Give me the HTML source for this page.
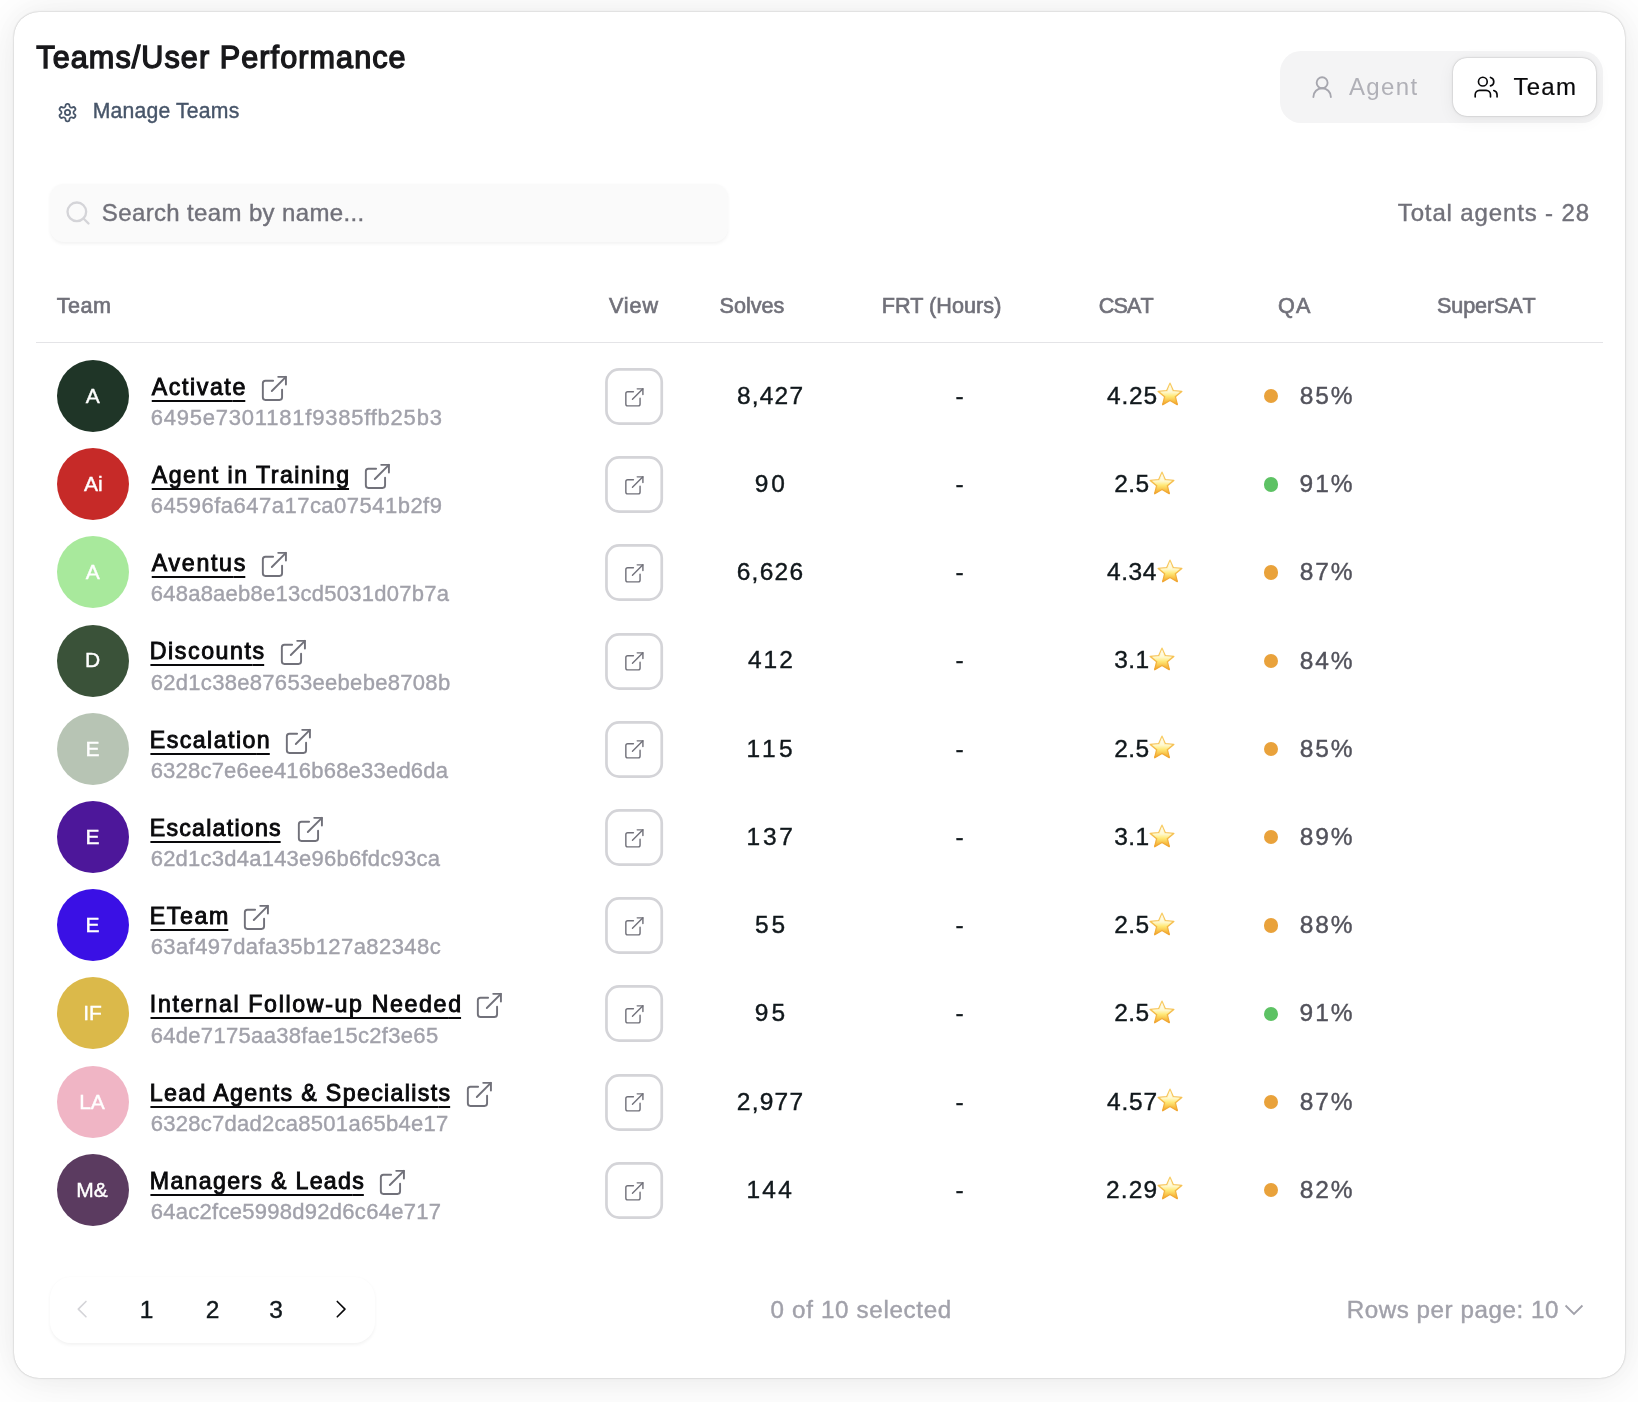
<!DOCTYPE html>
<html lang="en">
<head>
<meta charset="utf-8">
<title>Teams/User Performance</title>
<style>
html,body{margin:0;padding:0}
body{width:1638px;height:1402px;overflow:hidden;background:#fff;font-family:"Liberation Sans",sans-serif;position:relative}
.card{position:absolute;left:14px;top:12px;width:1611px;height:1366px;border-radius:25px;background:#fff;
 box-shadow:0 0 26px rgba(0,0,0,.03),0 3.5px 52px rgba(0,0,0,.08),0 0 1.75px rgba(0,0,0,.3)}
.t{position:absolute;white-space:pre;font-family:"Liberation Sans",sans-serif}
.av{position:absolute;left:56.9px;width:72px;height:72px;border-radius:50%}
.dot{position:absolute;left:1263.9px;width:14.4px;height:14.4px;border-radius:50%}
.toggle{position:absolute;left:1280px;top:51px;width:323px;height:72px;border-radius:21px;background:#f4f4f5}
.tsel{position:absolute;left:1453px;top:58px;width:143px;height:58px;border-radius:14px;background:#fff;
 box-shadow:0 0 8.75px rgba(0,0,0,.02),0 3.5px 17.5px rgba(0,0,0,.06),0 0 1.75px rgba(0,0,0,.3)}
.search{position:absolute;left:49.5px;top:184px;width:678.5px;height:58px;border-radius:14px;background:#fafafa;
 box-shadow:0 1.75px 3.5px rgba(0,0,0,.05)}
.hr{position:absolute;left:36px;top:341.5px;width:1567px;height:1.5px;background:#e4e4e7}
.pg{position:absolute;left:50px;top:1276.5px;width:324.5px;height:66px;border-radius:21px;background:#fff;
 box-shadow:0 1.75px 3.5px rgba(0,0,0,.05)}
svg{overflow:visible}
</style>
</head>
<body>
<svg width="0" height="0" style="position:absolute"><defs>
<linearGradient id="sg" x1="0" y1="0" x2="0" y2="1"><stop offset="0" stop-color="#f9d06a"/><stop offset=".5" stop-color="#f5bd4c"/><stop offset="1" stop-color="#f0a530"/></linearGradient><linearGradient id="sg2" x1="0" y1="0" x2="0" y2="1"><stop offset="0" stop-color="#fffdf2"/><stop offset=".38" stop-color="#fff9cf"/><stop offset=".62" stop-color="#ffe978"/><stop offset="1" stop-color="#f6b235"/></linearGradient>
</defs></svg>
<div class="card"></div>
<div class="toggle"></div>
<div class="tsel"></div>
<div class="search"></div>
<div class="hr"></div>
<div class="pg"></div>
<!-- gear (lucide settings) -->
<svg style="position:absolute;left:57.4px;top:102.3px" width="21" height="21" viewBox="0 0 24 24" fill="none" stroke="#475569" stroke-width="2" stroke-linecap="round" stroke-linejoin="round"><path d="M12.22 2h-.44a2 2 0 0 0-2 2v.18a2 2 0 0 1-1 1.73l-.43.25a2 2 0 0 1-2 0l-.15-.08a2 2 0 0 0-2.73.73l-.22.38a2 2 0 0 0 .73 2.73l.15.1a2 2 0 0 1 1 1.72v.51a2 2 0 0 1-1 1.74l-.15.09a2 2 0 0 0-.73 2.73l.22.38a2 2 0 0 0 2.73.73l.15-.08a2 2 0 0 1 2 0l.43.25a2 2 0 0 1 1 1.73V20a2 2 0 0 0 2 2h.44a2 2 0 0 0 2-2v-.18a2 2 0 0 1 1-1.73l.43-.25a2 2 0 0 1 2 0l.15.08a2 2 0 0 0 2.73-.73l.22-.39a2 2 0 0 0-.73-2.73l-.15-.08a2 2 0 0 1-1-1.74v-.5a2 2 0 0 1 1-1.74l.15-.09a2 2 0 0 0 .73-2.73l-.22-.38a2 2 0 0 0-2.73-.73l-.15.08a2 2 0 0 1-2 0l-.43-.25a2 2 0 0 1-1-1.73V4a2 2 0 0 0-2-2z"/><circle cx="12" cy="12" r="3"/></svg>
<!-- agent icon (lucide user-round) -->
<svg style="position:absolute;left:1308.5px;top:74.3px" width="26.25" height="26.25" viewBox="0 0 24 24" fill="none" stroke="#a6a6ae" stroke-width="1.7" stroke-linecap="round" stroke-linejoin="round"><circle cx="12" cy="8" r="5"/><path d="M20 21a8 8 0 0 0-16 0"/></svg>
<!-- team icon (lucide users) -->
<svg style="position:absolute;left:1473.4px;top:74.3px" width="26.25" height="26.25" viewBox="0 0 24 24" fill="none" stroke="#09090b" stroke-width="1.5" stroke-linecap="round" stroke-linejoin="round"><path d="M16 21v-2a4 4 0 0 0-4-4H6a4 4 0 0 0-4 4v2"/><circle cx="9" cy="7" r="4"/><path d="M22 21v-2a4 4 0 0 0-3-3.87"/><path d="M16 3.13a4 4 0 0 1 0 7.75"/></svg>
<!-- search icon (lucide search) -->
<svg style="position:absolute;left:63.8px;top:199.3px" width="28" height="28" viewBox="0 0 24 24" fill="none" stroke="#d4d4d8" stroke-width="2" stroke-linecap="round" stroke-linejoin="round"><circle cx="11" cy="11" r="8"/><path d="m21 21-4.3-4.3"/></svg>
<!-- pagination chevrons -->
<svg style="position:absolute;left:69.3px;top:1296.25px" width="26.25" height="26.25" viewBox="0 0 24 24" fill="none" stroke="#d4d4d8" stroke-width="1.5" stroke-linecap="round" stroke-linejoin="round"><path d="M15.5 19l-7-7 7-7"/></svg>
<svg style="position:absolute;left:328.3px;top:1296.25px" width="26.25" height="26.25" viewBox="0 0 24 24" fill="none" stroke="#09090b" stroke-width="1.5" stroke-linecap="round" stroke-linejoin="round"><path d="M8.5 19l7-7-7-7"/></svg>
<svg style="position:absolute;left:1560px;top:1298px" width="28" height="24" viewBox="0 0 28 24" fill="none" stroke="#a1a1aa" stroke-width="1.8" stroke-linecap="butt" stroke-linejoin="miter"><path d="M5.55 7.5l8.45 8.5 8.45-8.5"/></svg>
<div class="av" style="top:359.80px;background:#1f3527"></div>
<svg style="position:absolute;left:259.22px;top:372.62px" width="30.77" height="30.77" viewBox="0 0 24 24" fill="none" stroke="#71717a" stroke-width="1.5" stroke-linecap="round" stroke-linejoin="round"><path d="M15 3h6v6"/><path d="M10 14 21 3"/><path d="M18 13v6a2 2 0 0 1-2 2H5a2 2 0 0 1-2-2V8a2 2 0 0 1 2-2h6"/></svg>
<svg style="position:absolute;left:603px;top:365.80px" width="62" height="60" viewBox="0 0 62 60"><rect x="3.45" y="3.45" width="55.3" height="54.1" rx="12.7" fill="#fff" stroke="#d4d4d8" stroke-width="2.7"/></svg>
<svg style="position:absolute;left:622.50px;top:385.50px" width="22.75" height="22.75" viewBox="0 0 24 24" fill="none" stroke="#71717a" stroke-width="1.5" stroke-linecap="round" stroke-linejoin="round"><path d="M15 3h6v6"/><path d="M10 14 21 3"/><path d="M18 13v6a2 2 0 0 1-2 2H5a2 2 0 0 1-2-2V8a2 2 0 0 1 2-2h6"/></svg>
<div class="dot" style="top:388.90px;background:#e9a23b"></div>
<div class="av" style="top:448.04px;background:#c62a28"></div>
<svg style="position:absolute;left:362.02px;top:460.86px" width="30.77" height="30.77" viewBox="0 0 24 24" fill="none" stroke="#71717a" stroke-width="1.5" stroke-linecap="round" stroke-linejoin="round"><path d="M15 3h6v6"/><path d="M10 14 21 3"/><path d="M18 13v6a2 2 0 0 1-2 2H5a2 2 0 0 1-2-2V8a2 2 0 0 1 2-2h6"/></svg>
<svg style="position:absolute;left:603px;top:454.04px" width="62" height="60" viewBox="0 0 62 60"><rect x="3.45" y="3.45" width="55.3" height="54.1" rx="12.7" fill="#fff" stroke="#d4d4d8" stroke-width="2.7"/></svg>
<svg style="position:absolute;left:622.50px;top:473.74px" width="22.75" height="22.75" viewBox="0 0 24 24" fill="none" stroke="#71717a" stroke-width="1.5" stroke-linecap="round" stroke-linejoin="round"><path d="M15 3h6v6"/><path d="M10 14 21 3"/><path d="M18 13v6a2 2 0 0 1-2 2H5a2 2 0 0 1-2-2V8a2 2 0 0 1 2-2h6"/></svg>
<div class="dot" style="top:477.14px;background:#5dc264"></div>
<div class="av" style="top:536.28px;background:#a8e99c"></div>
<svg style="position:absolute;left:259.02px;top:549.10px" width="30.77" height="30.77" viewBox="0 0 24 24" fill="none" stroke="#71717a" stroke-width="1.5" stroke-linecap="round" stroke-linejoin="round"><path d="M15 3h6v6"/><path d="M10 14 21 3"/><path d="M18 13v6a2 2 0 0 1-2 2H5a2 2 0 0 1-2-2V8a2 2 0 0 1 2-2h6"/></svg>
<svg style="position:absolute;left:603px;top:542.28px" width="62" height="60" viewBox="0 0 62 60"><rect x="3.45" y="3.45" width="55.3" height="54.1" rx="12.7" fill="#fff" stroke="#d4d4d8" stroke-width="2.7"/></svg>
<svg style="position:absolute;left:622.50px;top:561.98px" width="22.75" height="22.75" viewBox="0 0 24 24" fill="none" stroke="#71717a" stroke-width="1.5" stroke-linecap="round" stroke-linejoin="round"><path d="M15 3h6v6"/><path d="M10 14 21 3"/><path d="M18 13v6a2 2 0 0 1-2 2H5a2 2 0 0 1-2-2V8a2 2 0 0 1 2-2h6"/></svg>
<div class="dot" style="top:565.38px;background:#e9a23b"></div>
<div class="av" style="top:624.52px;background:#3a5239"></div>
<svg style="position:absolute;left:277.82px;top:637.34px" width="30.77" height="30.77" viewBox="0 0 24 24" fill="none" stroke="#71717a" stroke-width="1.5" stroke-linecap="round" stroke-linejoin="round"><path d="M15 3h6v6"/><path d="M10 14 21 3"/><path d="M18 13v6a2 2 0 0 1-2 2H5a2 2 0 0 1-2-2V8a2 2 0 0 1 2-2h6"/></svg>
<svg style="position:absolute;left:603px;top:630.52px" width="62" height="60" viewBox="0 0 62 60"><rect x="3.45" y="3.45" width="55.3" height="54.1" rx="12.7" fill="#fff" stroke="#d4d4d8" stroke-width="2.7"/></svg>
<svg style="position:absolute;left:622.50px;top:650.22px" width="22.75" height="22.75" viewBox="0 0 24 24" fill="none" stroke="#71717a" stroke-width="1.5" stroke-linecap="round" stroke-linejoin="round"><path d="M15 3h6v6"/><path d="M10 14 21 3"/><path d="M18 13v6a2 2 0 0 1-2 2H5a2 2 0 0 1-2-2V8a2 2 0 0 1 2-2h6"/></svg>
<div class="dot" style="top:653.62px;background:#e9a23b"></div>
<div class="av" style="top:712.76px;background:#b7c4b4"></div>
<svg style="position:absolute;left:282.62px;top:725.58px" width="30.77" height="30.77" viewBox="0 0 24 24" fill="none" stroke="#71717a" stroke-width="1.5" stroke-linecap="round" stroke-linejoin="round"><path d="M15 3h6v6"/><path d="M10 14 21 3"/><path d="M18 13v6a2 2 0 0 1-2 2H5a2 2 0 0 1-2-2V8a2 2 0 0 1 2-2h6"/></svg>
<svg style="position:absolute;left:603px;top:718.76px" width="62" height="60" viewBox="0 0 62 60"><rect x="3.45" y="3.45" width="55.3" height="54.1" rx="12.7" fill="#fff" stroke="#d4d4d8" stroke-width="2.7"/></svg>
<svg style="position:absolute;left:622.50px;top:738.46px" width="22.75" height="22.75" viewBox="0 0 24 24" fill="none" stroke="#71717a" stroke-width="1.5" stroke-linecap="round" stroke-linejoin="round"><path d="M15 3h6v6"/><path d="M10 14 21 3"/><path d="M18 13v6a2 2 0 0 1-2 2H5a2 2 0 0 1-2-2V8a2 2 0 0 1 2-2h6"/></svg>
<div class="dot" style="top:741.86px;background:#e9a23b"></div>
<div class="av" style="top:801.00px;background:#4d179a"></div>
<svg style="position:absolute;left:294.62px;top:813.82px" width="30.77" height="30.77" viewBox="0 0 24 24" fill="none" stroke="#71717a" stroke-width="1.5" stroke-linecap="round" stroke-linejoin="round"><path d="M15 3h6v6"/><path d="M10 14 21 3"/><path d="M18 13v6a2 2 0 0 1-2 2H5a2 2 0 0 1-2-2V8a2 2 0 0 1 2-2h6"/></svg>
<svg style="position:absolute;left:603px;top:807.00px" width="62" height="60" viewBox="0 0 62 60"><rect x="3.45" y="3.45" width="55.3" height="54.1" rx="12.7" fill="#fff" stroke="#d4d4d8" stroke-width="2.7"/></svg>
<svg style="position:absolute;left:622.50px;top:826.70px" width="22.75" height="22.75" viewBox="0 0 24 24" fill="none" stroke="#71717a" stroke-width="1.5" stroke-linecap="round" stroke-linejoin="round"><path d="M15 3h6v6"/><path d="M10 14 21 3"/><path d="M18 13v6a2 2 0 0 1-2 2H5a2 2 0 0 1-2-2V8a2 2 0 0 1 2-2h6"/></svg>
<div class="dot" style="top:830.10px;background:#e9a23b"></div>
<div class="av" style="top:889.24px;background:#3a10e5"></div>
<svg style="position:absolute;left:241.32px;top:902.06px" width="30.77" height="30.77" viewBox="0 0 24 24" fill="none" stroke="#71717a" stroke-width="1.5" stroke-linecap="round" stroke-linejoin="round"><path d="M15 3h6v6"/><path d="M10 14 21 3"/><path d="M18 13v6a2 2 0 0 1-2 2H5a2 2 0 0 1-2-2V8a2 2 0 0 1 2-2h6"/></svg>
<svg style="position:absolute;left:603px;top:895.24px" width="62" height="60" viewBox="0 0 62 60"><rect x="3.45" y="3.45" width="55.3" height="54.1" rx="12.7" fill="#fff" stroke="#d4d4d8" stroke-width="2.7"/></svg>
<svg style="position:absolute;left:622.50px;top:914.94px" width="22.75" height="22.75" viewBox="0 0 24 24" fill="none" stroke="#71717a" stroke-width="1.5" stroke-linecap="round" stroke-linejoin="round"><path d="M15 3h6v6"/><path d="M10 14 21 3"/><path d="M18 13v6a2 2 0 0 1-2 2H5a2 2 0 0 1-2-2V8a2 2 0 0 1 2-2h6"/></svg>
<div class="dot" style="top:918.34px;background:#e9a23b"></div>
<div class="av" style="top:977.48px;background:#dbb94a"></div>
<svg style="position:absolute;left:474.02px;top:990.30px" width="30.77" height="30.77" viewBox="0 0 24 24" fill="none" stroke="#71717a" stroke-width="1.5" stroke-linecap="round" stroke-linejoin="round"><path d="M15 3h6v6"/><path d="M10 14 21 3"/><path d="M18 13v6a2 2 0 0 1-2 2H5a2 2 0 0 1-2-2V8a2 2 0 0 1 2-2h6"/></svg>
<svg style="position:absolute;left:603px;top:983.48px" width="62" height="60" viewBox="0 0 62 60"><rect x="3.45" y="3.45" width="55.3" height="54.1" rx="12.7" fill="#fff" stroke="#d4d4d8" stroke-width="2.7"/></svg>
<svg style="position:absolute;left:622.50px;top:1003.18px" width="22.75" height="22.75" viewBox="0 0 24 24" fill="none" stroke="#71717a" stroke-width="1.5" stroke-linecap="round" stroke-linejoin="round"><path d="M15 3h6v6"/><path d="M10 14 21 3"/><path d="M18 13v6a2 2 0 0 1-2 2H5a2 2 0 0 1-2-2V8a2 2 0 0 1 2-2h6"/></svg>
<div class="dot" style="top:1006.58px;background:#5dc264"></div>
<div class="av" style="top:1065.72px;background:#f0b5c5"></div>
<svg style="position:absolute;left:463.52px;top:1078.54px" width="30.77" height="30.77" viewBox="0 0 24 24" fill="none" stroke="#71717a" stroke-width="1.5" stroke-linecap="round" stroke-linejoin="round"><path d="M15 3h6v6"/><path d="M10 14 21 3"/><path d="M18 13v6a2 2 0 0 1-2 2H5a2 2 0 0 1-2-2V8a2 2 0 0 1 2-2h6"/></svg>
<svg style="position:absolute;left:603px;top:1071.72px" width="62" height="60" viewBox="0 0 62 60"><rect x="3.45" y="3.45" width="55.3" height="54.1" rx="12.7" fill="#fff" stroke="#d4d4d8" stroke-width="2.7"/></svg>
<svg style="position:absolute;left:622.50px;top:1091.42px" width="22.75" height="22.75" viewBox="0 0 24 24" fill="none" stroke="#71717a" stroke-width="1.5" stroke-linecap="round" stroke-linejoin="round"><path d="M15 3h6v6"/><path d="M10 14 21 3"/><path d="M18 13v6a2 2 0 0 1-2 2H5a2 2 0 0 1-2-2V8a2 2 0 0 1 2-2h6"/></svg>
<div class="dot" style="top:1094.82px;background:#e9a23b"></div>
<div class="av" style="top:1153.96px;background:#5b3b60"></div>
<svg style="position:absolute;left:377.22px;top:1166.78px" width="30.77" height="30.77" viewBox="0 0 24 24" fill="none" stroke="#71717a" stroke-width="1.5" stroke-linecap="round" stroke-linejoin="round"><path d="M15 3h6v6"/><path d="M10 14 21 3"/><path d="M18 13v6a2 2 0 0 1-2 2H5a2 2 0 0 1-2-2V8a2 2 0 0 1 2-2h6"/></svg>
<svg style="position:absolute;left:603px;top:1159.96px" width="62" height="60" viewBox="0 0 62 60"><rect x="3.45" y="3.45" width="55.3" height="54.1" rx="12.7" fill="#fff" stroke="#d4d4d8" stroke-width="2.7"/></svg>
<svg style="position:absolute;left:622.50px;top:1179.66px" width="22.75" height="22.75" viewBox="0 0 24 24" fill="none" stroke="#71717a" stroke-width="1.5" stroke-linecap="round" stroke-linejoin="round"><path d="M15 3h6v6"/><path d="M10 14 21 3"/><path d="M18 13v6a2 2 0 0 1-2 2H5a2 2 0 0 1-2-2V8a2 2 0 0 1 2-2h6"/></svg>
<div class="dot" style="top:1183.06px;background:#e9a23b"></div>
<svg style="position:absolute;left:1156.98px;top:382.30px" width="26" height="24" viewBox="0 0 26 25" preserveAspectRatio="none"><path d="M13.00 1.20 L16.29 9.07 L24.79 9.77 L18.33 15.33 L20.29 23.63 L13.00 19.20 L5.71 23.63 L7.67 15.33 L1.21 9.77 L9.71 9.07Z" fill="url(#sg)" stroke="url(#sg)" stroke-width="1.4" stroke-linejoin="round"/><path d="M13.00 3.6 L15.6 9.95 L22.4 10.5 L17.2 15 L18.8 21.6 L13.00 18.1 L7.2 21.6 L8.8 15 L3.6 10.5 L10.4 9.95Z" fill="url(#sg2)" stroke="url(#sg2)" stroke-width="0.8" stroke-linejoin="round"/></svg>
<svg style="position:absolute;left:1148.98px;top:470.54px" width="26" height="24" viewBox="0 0 26 25" preserveAspectRatio="none"><path d="M13.00 1.20 L16.29 9.07 L24.79 9.77 L18.33 15.33 L20.29 23.63 L13.00 19.20 L5.71 23.63 L7.67 15.33 L1.21 9.77 L9.71 9.07Z" fill="url(#sg)" stroke="url(#sg)" stroke-width="1.4" stroke-linejoin="round"/><path d="M13.00 3.6 L15.6 9.95 L22.4 10.5 L17.2 15 L18.8 21.6 L13.00 18.1 L7.2 21.6 L8.8 15 L3.6 10.5 L10.4 9.95Z" fill="url(#sg2)" stroke="url(#sg2)" stroke-width="0.8" stroke-linejoin="round"/></svg>
<svg style="position:absolute;left:1156.92px;top:558.78px" width="26" height="24" viewBox="0 0 26 25" preserveAspectRatio="none"><path d="M13.00 1.20 L16.29 9.07 L24.79 9.77 L18.33 15.33 L20.29 23.63 L13.00 19.20 L5.71 23.63 L7.67 15.33 L1.21 9.77 L9.71 9.07Z" fill="url(#sg)" stroke="url(#sg)" stroke-width="1.4" stroke-linejoin="round"/><path d="M13.00 3.6 L15.6 9.95 L22.4 10.5 L17.2 15 L18.8 21.6 L13.00 18.1 L7.2 21.6 L8.8 15 L3.6 10.5 L10.4 9.95Z" fill="url(#sg2)" stroke="url(#sg2)" stroke-width="0.8" stroke-linejoin="round"/></svg>
<svg style="position:absolute;left:1148.97px;top:647.02px" width="26" height="24" viewBox="0 0 26 25" preserveAspectRatio="none"><path d="M13.00 1.20 L16.29 9.07 L24.79 9.77 L18.33 15.33 L20.29 23.63 L13.00 19.20 L5.71 23.63 L7.67 15.33 L1.21 9.77 L9.71 9.07Z" fill="url(#sg)" stroke="url(#sg)" stroke-width="1.4" stroke-linejoin="round"/><path d="M13.00 3.6 L15.6 9.95 L22.4 10.5 L17.2 15 L18.8 21.6 L13.00 18.1 L7.2 21.6 L8.8 15 L3.6 10.5 L10.4 9.95Z" fill="url(#sg2)" stroke="url(#sg2)" stroke-width="0.8" stroke-linejoin="round"/></svg>
<svg style="position:absolute;left:1148.98px;top:735.26px" width="26" height="24" viewBox="0 0 26 25" preserveAspectRatio="none"><path d="M13.00 1.20 L16.29 9.07 L24.79 9.77 L18.33 15.33 L20.29 23.63 L13.00 19.20 L5.71 23.63 L7.67 15.33 L1.21 9.77 L9.71 9.07Z" fill="url(#sg)" stroke="url(#sg)" stroke-width="1.4" stroke-linejoin="round"/><path d="M13.00 3.6 L15.6 9.95 L22.4 10.5 L17.2 15 L18.8 21.6 L13.00 18.1 L7.2 21.6 L8.8 15 L3.6 10.5 L10.4 9.95Z" fill="url(#sg2)" stroke="url(#sg2)" stroke-width="0.8" stroke-linejoin="round"/></svg>
<svg style="position:absolute;left:1148.97px;top:823.50px" width="26" height="24" viewBox="0 0 26 25" preserveAspectRatio="none"><path d="M13.00 1.20 L16.29 9.07 L24.79 9.77 L18.33 15.33 L20.29 23.63 L13.00 19.20 L5.71 23.63 L7.67 15.33 L1.21 9.77 L9.71 9.07Z" fill="url(#sg)" stroke="url(#sg)" stroke-width="1.4" stroke-linejoin="round"/><path d="M13.00 3.6 L15.6 9.95 L22.4 10.5 L17.2 15 L18.8 21.6 L13.00 18.1 L7.2 21.6 L8.8 15 L3.6 10.5 L10.4 9.95Z" fill="url(#sg2)" stroke="url(#sg2)" stroke-width="0.8" stroke-linejoin="round"/></svg>
<svg style="position:absolute;left:1148.98px;top:911.74px" width="26" height="24" viewBox="0 0 26 25" preserveAspectRatio="none"><path d="M13.00 1.20 L16.29 9.07 L24.79 9.77 L18.33 15.33 L20.29 23.63 L13.00 19.20 L5.71 23.63 L7.67 15.33 L1.21 9.77 L9.71 9.07Z" fill="url(#sg)" stroke="url(#sg)" stroke-width="1.4" stroke-linejoin="round"/><path d="M13.00 3.6 L15.6 9.95 L22.4 10.5 L17.2 15 L18.8 21.6 L13.00 18.1 L7.2 21.6 L8.8 15 L3.6 10.5 L10.4 9.95Z" fill="url(#sg2)" stroke="url(#sg2)" stroke-width="0.8" stroke-linejoin="round"/></svg>
<svg style="position:absolute;left:1148.98px;top:999.98px" width="26" height="24" viewBox="0 0 26 25" preserveAspectRatio="none"><path d="M13.00 1.20 L16.29 9.07 L24.79 9.77 L18.33 15.33 L20.29 23.63 L13.00 19.20 L5.71 23.63 L7.67 15.33 L1.21 9.77 L9.71 9.07Z" fill="url(#sg)" stroke="url(#sg)" stroke-width="1.4" stroke-linejoin="round"/><path d="M13.00 3.6 L15.6 9.95 L22.4 10.5 L17.2 15 L18.8 21.6 L13.00 18.1 L7.2 21.6 L8.8 15 L3.6 10.5 L10.4 9.95Z" fill="url(#sg2)" stroke="url(#sg2)" stroke-width="0.8" stroke-linejoin="round"/></svg>
<svg style="position:absolute;left:1156.96px;top:1088.22px" width="26" height="24" viewBox="0 0 26 25" preserveAspectRatio="none"><path d="M13.00 1.20 L16.29 9.07 L24.79 9.77 L18.33 15.33 L20.29 23.63 L13.00 19.20 L5.71 23.63 L7.67 15.33 L1.21 9.77 L9.71 9.07Z" fill="url(#sg)" stroke="url(#sg)" stroke-width="1.4" stroke-linejoin="round"/><path d="M13.00 3.6 L15.6 9.95 L22.4 10.5 L17.2 15 L18.8 21.6 L13.00 18.1 L7.2 21.6 L8.8 15 L3.6 10.5 L10.4 9.95Z" fill="url(#sg2)" stroke="url(#sg2)" stroke-width="0.8" stroke-linejoin="round"/></svg>
<svg style="position:absolute;left:1156.97px;top:1176.46px" width="26" height="24" viewBox="0 0 26 25" preserveAspectRatio="none"><path d="M13.00 1.20 L16.29 9.07 L24.79 9.77 L18.33 15.33 L20.29 23.63 L13.00 19.20 L5.71 23.63 L7.67 15.33 L1.21 9.77 L9.71 9.07Z" fill="url(#sg)" stroke="url(#sg)" stroke-width="1.4" stroke-linejoin="round"/><path d="M13.00 3.6 L15.6 9.95 L22.4 10.5 L17.2 15 L18.8 21.6 L13.00 18.1 L7.2 21.6 L8.8 15 L3.6 10.5 L10.4 9.95Z" fill="url(#sg2)" stroke="url(#sg2)" stroke-width="0.8" stroke-linejoin="round"/></svg>
<div id="tx" style="position:absolute;left:0;top:0;width:1638px;height:1402px;will-change:transform">
<div class="t" style="left:36.31px;top:42.00px;font-size:30.6px;line-height:30.6px;color:#18181b;-webkit-text-stroke:1.35px;"><span style="letter-spacing:1.070px">Teams/User Performanc</span>e</div>
<div class="t" style="left:92.70px;top:99.55px;font-size:21.2px;line-height:21.2px;color:#475569;-webkit-text-stroke:0.4px;"><span style="letter-spacing:0.189px">Manage Team</span>s</div>
<div class="t" style="left:1348.89px;top:74.58px;font-size:24.0px;line-height:24.0px;color:#b0b0b7;"><span style="letter-spacing:1.371px">Agen</span>t</div>
<div class="t" style="left:1513.50px;top:74.58px;font-size:24.0px;line-height:24.0px;color:#09090b;-webkit-text-stroke:0.2px;"><span style="letter-spacing:1.225px">Tea</span>m</div>
<div class="t" style="left:101.86px;top:200.58px;font-size:24.0px;line-height:24.0px;color:#71717a;-webkit-text-stroke:0.4px;"><span style="letter-spacing:0.360px">Search team by name..</span>.</div>
<div class="t" style="left:1397.81px;top:200.68px;font-size:24.0px;line-height:24.0px;color:#71717a;-webkit-text-stroke:0.4px;"><span style="letter-spacing:0.860px">Total agents - 2</span>8</div>
<div class="t" style="left:56.79px;top:294.72px;font-size:21.6px;line-height:21.6px;color:#71717a;-webkit-text-stroke:0.65px;"><span style="letter-spacing:0.478px">Tea</span>m</div>
<div class="t" style="left:608.90px;top:294.72px;font-size:21.6px;line-height:21.6px;color:#71717a;-webkit-text-stroke:0.65px;"><span style="letter-spacing:0.924px">Vie</span>w</div>
<div class="t" style="left:719.59px;top:294.72px;font-size:21.6px;line-height:21.6px;color:#71717a;-webkit-text-stroke:0.65px;"><span style="letter-spacing:-0.020px">Solve</span>s</div>
<div class="t" style="left:881.77px;top:294.72px;font-size:21.6px;line-height:21.6px;color:#71717a;-webkit-text-stroke:0.65px;"><span style="letter-spacing:0.038px">FRT (Hours</span>)</div>
<div class="t" style="left:1098.74px;top:294.72px;font-size:21.6px;line-height:21.6px;color:#71717a;-webkit-text-stroke:0.65px;"><span style="letter-spacing:-0.854px">CSA</span>T</div>
<div class="t" style="left:1277.98px;top:294.72px;font-size:21.6px;line-height:21.6px;color:#71717a;-webkit-text-stroke:0.65px;"><span style="letter-spacing:1.182px">Q</span>A</div>
<div class="t" style="left:1437.00px;top:294.72px;font-size:21.6px;line-height:21.6px;color:#71717a;-webkit-text-stroke:0.65px;"><span style="letter-spacing:-0.120px">SuperSA</span>T</div>
<div class="t" style="left:85.66px;top:384.82px;font-size:21.0px;line-height:21.0px;color:#ffffff;-webkit-text-stroke:0.4px;">A</div>
<div class="t" style="left:151.77px;top:376.06px;font-size:23.2px;line-height:23.2px;color:#09090b;-webkit-text-stroke:0.9px;text-decoration:underline;text-decoration-thickness:2.3px;text-underline-offset:4.9px;"><span style="letter-spacing:1.573px">Activat</span>e</div>
<div class="t" style="left:150.66px;top:407.38px;font-size:22.0px;line-height:22.0px;color:#a1a1aa;-webkit-text-stroke:0.4px;"><span style="letter-spacing:0.782px">6495e7301181f9385ffb25b</span>3</div>
<div class="t" style="left:736.91px;top:383.96px;font-size:24.5px;line-height:24.5px;color:#11181c;-webkit-text-stroke:0.4px;"><span style="letter-spacing:1.205px">8,42</span>7</div>
<div class="t" style="left:955.53px;top:383.96px;font-size:24.5px;line-height:24.5px;color:#11181c;-webkit-text-stroke:0.4px;">-</div>
<div class="t" style="left:1106.98px;top:383.86px;font-size:24.5px;line-height:24.5px;color:#11181c;-webkit-text-stroke:0.4px;"><span style="letter-spacing:0.822px">4.2</span>5</div>
<div class="t" style="left:1299.65px;top:384.06px;font-size:24.5px;line-height:24.5px;color:#52525b;-webkit-text-stroke:0.4px;"><span style="letter-spacing:1.978px">85</span>%</div>
<div class="t" style="left:84.06px;top:473.06px;font-size:21.0px;line-height:21.0px;color:#ffffff;-webkit-text-stroke:0.4px;">Ai</div>
<div class="t" style="left:151.77px;top:464.30px;font-size:23.2px;line-height:23.2px;color:#09090b;-webkit-text-stroke:0.9px;text-decoration:underline;text-decoration-thickness:2.3px;text-underline-offset:4.9px;"><span style="letter-spacing:1.453px">Agent in Trainin</span>g</div>
<div class="t" style="left:150.66px;top:494.62px;font-size:22.0px;line-height:22.0px;color:#a1a1aa;-webkit-text-stroke:0.4px;"><span style="letter-spacing:0.484px">64596fa647a17ca07541b2f</span>9</div>
<div class="t" style="left:754.78px;top:472.20px;font-size:24.5px;line-height:24.5px;color:#11181c;-webkit-text-stroke:0.4px;"><span style="letter-spacing:2.941px">9</span>0</div>
<div class="t" style="left:955.53px;top:472.20px;font-size:24.5px;line-height:24.5px;color:#11181c;-webkit-text-stroke:0.4px;">-</div>
<div class="t" style="left:1114.16px;top:472.10px;font-size:24.5px;line-height:24.5px;color:#11181c;-webkit-text-stroke:0.4px;"><span style="letter-spacing:0.453px">2.</span>5</div>
<div class="t" style="left:1299.58px;top:472.30px;font-size:24.5px;line-height:24.5px;color:#52525b;-webkit-text-stroke:0.4px;"><span style="letter-spacing:2.012px">91</span>%</div>
<div class="t" style="left:85.66px;top:561.30px;font-size:21.0px;line-height:21.0px;color:#ffffff;-webkit-text-stroke:0.4px;">A</div>
<div class="t" style="left:151.77px;top:551.54px;font-size:23.2px;line-height:23.2px;color:#09090b;-webkit-text-stroke:0.9px;text-decoration:underline;text-decoration-thickness:2.3px;text-underline-offset:4.9px;"><span style="letter-spacing:1.693px">Aventu</span>s</div>
<div class="t" style="left:150.66px;top:582.86px;font-size:22.0px;line-height:22.0px;color:#a1a1aa;-webkit-text-stroke:0.4px;"><span style="letter-spacing:0.257px">648a8aeb8e13cd5031d07b7</span>a</div>
<div class="t" style="left:736.74px;top:560.44px;font-size:24.5px;line-height:24.5px;color:#11181c;-webkit-text-stroke:0.4px;"><span style="letter-spacing:1.247px">6,62</span>6</div>
<div class="t" style="left:955.53px;top:560.44px;font-size:24.5px;line-height:24.5px;color:#11181c;-webkit-text-stroke:0.4px;">-</div>
<div class="t" style="left:1106.98px;top:560.34px;font-size:24.5px;line-height:24.5px;color:#11181c;-webkit-text-stroke:0.4px;"><span style="letter-spacing:0.544px">4.3</span>4</div>
<div class="t" style="left:1299.65px;top:559.54px;font-size:24.5px;line-height:24.5px;color:#52525b;-webkit-text-stroke:0.4px;"><span style="letter-spacing:1.978px">87</span>%</div>
<div class="t" style="left:84.99px;top:648.54px;font-size:21.0px;line-height:21.0px;color:#ffffff;-webkit-text-stroke:0.4px;">D</div>
<div class="t" style="left:149.78px;top:639.78px;font-size:23.2px;line-height:23.2px;color:#09090b;-webkit-text-stroke:0.9px;text-decoration:underline;text-decoration-thickness:2.3px;text-underline-offset:4.9px;clip-path:inset(-6px -6px -10px 0.64px);"><span style="letter-spacing:1.574px">Discount</span>s</div>
<div class="t" style="left:150.66px;top:672.10px;font-size:22.0px;line-height:22.0px;color:#a1a1aa;-webkit-text-stroke:0.4px;"><span style="letter-spacing:0.307px">62d1c38e87653eebebe8708</span>b</div>
<div class="t" style="left:748.06px;top:647.68px;font-size:24.5px;line-height:24.5px;color:#11181c;-webkit-text-stroke:0.4px;"><span style="letter-spacing:1.931px">41</span>2</div>
<div class="t" style="left:955.53px;top:647.68px;font-size:24.5px;line-height:24.5px;color:#11181c;-webkit-text-stroke:0.4px;">-</div>
<div class="t" style="left:1114.17px;top:647.58px;font-size:24.5px;line-height:24.5px;color:#11181c;-webkit-text-stroke:0.4px;"><span style="letter-spacing:0.450px">3.</span>1</div>
<div class="t" style="left:1299.65px;top:648.78px;font-size:24.5px;line-height:24.5px;color:#52525b;-webkit-text-stroke:0.4px;"><span style="letter-spacing:1.978px">84</span>%</div>
<div class="t" style="left:85.44px;top:737.78px;font-size:21.0px;line-height:21.0px;color:#ffffff;-webkit-text-stroke:0.4px;">E</div>
<div class="t" style="left:149.78px;top:729.02px;font-size:23.2px;line-height:23.2px;color:#09090b;-webkit-text-stroke:0.9px;text-decoration:underline;text-decoration-thickness:2.3px;text-underline-offset:4.9px;clip-path:inset(-6px -6px -10px 0.64px);"><span style="letter-spacing:1.445px">Escalatio</span>n</div>
<div class="t" style="left:150.66px;top:760.34px;font-size:22.0px;line-height:22.0px;color:#a1a1aa;-webkit-text-stroke:0.4px;"><span style="letter-spacing:0.213px">6328c7e6ee416b68e33ed6d</span>a</div>
<div class="t" style="left:746.58px;top:736.92px;font-size:24.5px;line-height:24.5px;color:#11181c;-webkit-text-stroke:0.4px;"><span style="letter-spacing:3.522px">11</span>5</div>
<div class="t" style="left:955.53px;top:736.92px;font-size:24.5px;line-height:24.5px;color:#11181c;-webkit-text-stroke:0.4px;">-</div>
<div class="t" style="left:1114.16px;top:736.82px;font-size:24.5px;line-height:24.5px;color:#11181c;-webkit-text-stroke:0.4px;"><span style="letter-spacing:0.453px">2.</span>5</div>
<div class="t" style="left:1299.65px;top:737.02px;font-size:24.5px;line-height:24.5px;color:#52525b;-webkit-text-stroke:0.4px;"><span style="letter-spacing:1.978px">85</span>%</div>
<div class="t" style="left:85.44px;top:826.02px;font-size:21.0px;line-height:21.0px;color:#ffffff;-webkit-text-stroke:0.4px;">E</div>
<div class="t" style="left:149.78px;top:817.26px;font-size:23.2px;line-height:23.2px;color:#09090b;-webkit-text-stroke:0.9px;text-decoration:underline;text-decoration-thickness:2.3px;text-underline-offset:4.9px;clip-path:inset(-6px -6px -10px 0.64px);"><span style="letter-spacing:1.229px">Escalation</span>s</div>
<div class="t" style="left:150.66px;top:847.58px;font-size:22.0px;line-height:22.0px;color:#a1a1aa;-webkit-text-stroke:0.4px;"><span style="letter-spacing:0.237px">62d1c3d4a143e96b6fdc93c</span>a</div>
<div class="t" style="left:746.58px;top:825.16px;font-size:24.5px;line-height:24.5px;color:#11181c;-webkit-text-stroke:0.4px;"><span style="letter-spacing:2.672px">13</span>7</div>
<div class="t" style="left:955.53px;top:825.16px;font-size:24.5px;line-height:24.5px;color:#11181c;-webkit-text-stroke:0.4px;">-</div>
<div class="t" style="left:1114.17px;top:825.06px;font-size:24.5px;line-height:24.5px;color:#11181c;-webkit-text-stroke:0.4px;"><span style="letter-spacing:0.450px">3.</span>1</div>
<div class="t" style="left:1299.65px;top:825.26px;font-size:24.5px;line-height:24.5px;color:#52525b;-webkit-text-stroke:0.4px;"><span style="letter-spacing:1.978px">89</span>%</div>
<div class="t" style="left:85.44px;top:914.26px;font-size:21.0px;line-height:21.0px;color:#ffffff;-webkit-text-stroke:0.4px;">E</div>
<div class="t" style="left:149.78px;top:904.50px;font-size:23.2px;line-height:23.2px;color:#09090b;-webkit-text-stroke:0.9px;text-decoration:underline;text-decoration-thickness:2.3px;text-underline-offset:4.9px;clip-path:inset(-6px -6px -10px 0.64px);"><span style="letter-spacing:1.587px">ETea</span>m</div>
<div class="t" style="left:150.66px;top:935.82px;font-size:22.0px;line-height:22.0px;color:#a1a1aa;-webkit-text-stroke:0.4px;"><span style="letter-spacing:0.427px">63af497dafa35b127a82348</span>c</div>
<div class="t" style="left:754.90px;top:913.40px;font-size:24.5px;line-height:24.5px;color:#11181c;-webkit-text-stroke:0.4px;"><span style="letter-spacing:2.854px">5</span>5</div>
<div class="t" style="left:955.53px;top:913.40px;font-size:24.5px;line-height:24.5px;color:#11181c;-webkit-text-stroke:0.4px;">-</div>
<div class="t" style="left:1114.16px;top:913.30px;font-size:24.5px;line-height:24.5px;color:#11181c;-webkit-text-stroke:0.4px;"><span style="letter-spacing:0.453px">2.</span>5</div>
<div class="t" style="left:1299.65px;top:912.50px;font-size:24.5px;line-height:24.5px;color:#52525b;-webkit-text-stroke:0.4px;"><span style="letter-spacing:1.978px">88</span>%</div>
<div class="t" style="left:83.18px;top:1001.50px;font-size:21.0px;line-height:21.0px;color:#ffffff;-webkit-text-stroke:0.4px;">IF</div>
<div class="t" style="left:149.82px;top:992.74px;font-size:23.2px;line-height:23.2px;color:#09090b;-webkit-text-stroke:0.9px;text-decoration:underline;text-decoration-thickness:2.3px;text-underline-offset:4.9px;clip-path:inset(-6px -6px -10px 0.70px);"><span style="letter-spacing:1.636px">Internal Follow-up Neede</span>d</div>
<div class="t" style="left:150.66px;top:1025.06px;font-size:22.0px;line-height:22.0px;color:#a1a1aa;-webkit-text-stroke:0.4px;"><span style="letter-spacing:0.318px">64de7175aa38fae15c2f3e6</span>5</div>
<div class="t" style="left:754.78px;top:1000.64px;font-size:24.5px;line-height:24.5px;color:#11181c;-webkit-text-stroke:0.4px;"><span style="letter-spacing:2.976px">9</span>5</div>
<div class="t" style="left:955.53px;top:1000.64px;font-size:24.5px;line-height:24.5px;color:#11181c;-webkit-text-stroke:0.4px;">-</div>
<div class="t" style="left:1114.16px;top:1000.54px;font-size:24.5px;line-height:24.5px;color:#11181c;-webkit-text-stroke:0.4px;"><span style="letter-spacing:0.453px">2.</span>5</div>
<div class="t" style="left:1299.58px;top:1000.74px;font-size:24.5px;line-height:24.5px;color:#52525b;-webkit-text-stroke:0.4px;"><span style="letter-spacing:2.012px">91</span>%</div>
<div class="t" style="left:79.16px;top:1090.74px;font-size:21.0px;line-height:21.0px;color:#ffffff;-webkit-text-stroke:0.4px;">LA</div>
<div class="t" style="left:149.78px;top:1081.98px;font-size:23.2px;line-height:23.2px;color:#09090b;-webkit-text-stroke:0.9px;text-decoration:underline;text-decoration-thickness:2.3px;text-underline-offset:4.9px;clip-path:inset(-6px -6px -10px 0.64px);"><span style="letter-spacing:1.344px">Lead Agents &amp; Specialist</span>s</div>
<div class="t" style="left:150.66px;top:1113.30px;font-size:22.0px;line-height:22.0px;color:#a1a1aa;-webkit-text-stroke:0.4px;"><span style="letter-spacing:0.277px">6328c7dad2ca8501a65b4e1</span>7</div>
<div class="t" style="left:736.81px;top:1089.88px;font-size:24.5px;line-height:24.5px;color:#11181c;-webkit-text-stroke:0.4px;"><span style="letter-spacing:1.229px">2,97</span>7</div>
<div class="t" style="left:955.53px;top:1089.88px;font-size:24.5px;line-height:24.5px;color:#11181c;-webkit-text-stroke:0.4px;">-</div>
<div class="t" style="left:1106.98px;top:1089.78px;font-size:24.5px;line-height:24.5px;color:#11181c;-webkit-text-stroke:0.4px;"><span style="letter-spacing:0.858px">4.5</span>7</div>
<div class="t" style="left:1299.65px;top:1089.98px;font-size:24.5px;line-height:24.5px;color:#52525b;-webkit-text-stroke:0.4px;"><span style="letter-spacing:1.978px">87</span>%</div>
<div class="t" style="left:76.32px;top:1178.98px;font-size:21.0px;line-height:21.0px;color:#ffffff;-webkit-text-stroke:0.4px;">M&amp;</div>
<div class="t" style="left:149.78px;top:1170.22px;font-size:23.2px;line-height:23.2px;color:#09090b;-webkit-text-stroke:0.9px;text-decoration:underline;text-decoration-thickness:2.3px;text-underline-offset:4.9px;clip-path:inset(-6px -6px -10px 0.64px);"><span style="letter-spacing:1.295px">Managers &amp; Lead</span>s</div>
<div class="t" style="left:150.66px;top:1200.54px;font-size:22.0px;line-height:22.0px;color:#a1a1aa;-webkit-text-stroke:0.4px;"><span style="letter-spacing:0.282px">64ac2fce5998d92d6c64e71</span>7</div>
<div class="t" style="left:746.58px;top:1178.12px;font-size:24.5px;line-height:24.5px;color:#11181c;-webkit-text-stroke:0.4px;"><span style="letter-spacing:2.140px">14</span>4</div>
<div class="t" style="left:955.53px;top:1178.12px;font-size:24.5px;line-height:24.5px;color:#11181c;-webkit-text-stroke:0.4px;">-</div>
<div class="t" style="left:1105.97px;top:1178.02px;font-size:24.5px;line-height:24.5px;color:#11181c;-webkit-text-stroke:0.4px;"><span style="letter-spacing:1.187px">2.2</span>9</div>
<div class="t" style="left:1299.65px;top:1178.22px;font-size:24.5px;line-height:24.5px;color:#52525b;-webkit-text-stroke:0.4px;"><span style="letter-spacing:1.978px">82</span>%</div>
<div class="t" style="left:139.85px;top:1298.36px;font-size:24.5px;line-height:24.5px;color:#11181c;-webkit-text-stroke:0.4px;">1</div>
<div class="t" style="left:205.66px;top:1298.36px;font-size:24.5px;line-height:24.5px;color:#11181c;-webkit-text-stroke:0.4px;">2</div>
<div class="t" style="left:269.21px;top:1298.36px;font-size:24.5px;line-height:24.5px;color:#11181c;-webkit-text-stroke:0.4px;">3</div>
<div class="t" style="left:770.56px;top:1297.61px;font-size:24.2px;line-height:24.2px;color:#a1a1aa;-webkit-text-stroke:0.4px;"><span style="letter-spacing:0.664px">0 of 10 selecte</span>d</div>
<div class="t" style="left:1346.73px;top:1297.61px;font-size:24.2px;line-height:24.2px;color:#a1a1aa;-webkit-text-stroke:0.4px;"><span style="letter-spacing:0.539px">Rows per page: 1</span>0</div>
</div>
</body>
</html>
